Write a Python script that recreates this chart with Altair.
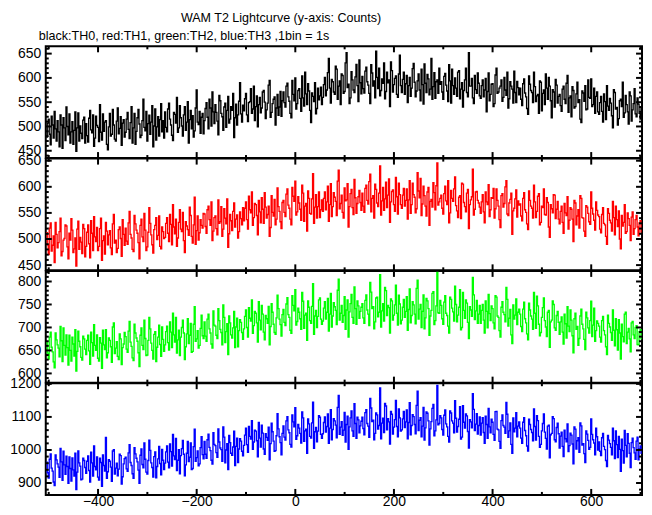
import altair as alt
import pandas as pd

# time bins (seconds); each listed value is one bin
T_START = -505
BIN = 2

th0 = [
    478, 507, 515, 484, 462, 521, 503, 476, 531, 495, 470, 512, 489, 458, 524, 503, 455, 518, 497, 471,
    540, 500, 483, 526, 466, 489, 510, 463, 492, 530, 449, 497, 528, 470, 501, 486, 475, 513, 519, 466,
    506, 481, 468, 517, 533, 493, 487, 524, 459, 476, 521, 502, 498, 469, 545, 488, 472, 526, 490, 509,
    512, 463, 452, 499, 527, 480, 484, 535, 503, 474, 470, 511, 538, 485, 496, 520, 461, 507, 514, 478,
    488, 515, 529, 494, 475, 508, 541, 466, 497, 527, 463, 490, 518, 535, 505, 477, 482, 512, 556, 498,
    491, 531, 470, 506, 523, 484, 509, 543, 458, 501, 536, 472, 499, 520, 480, 514, 547, 489, 512, 476,
    530, 498, 489, 536, 548, 515, 503, 482, 471, 529, 525, 507, 560, 488, 497, 543, 518, 501, 480, 524,
    541, 492, 509, 551, 466, 514, 533, 495, 522, 478, 491, 538, 575, 509, 504, 531, 486, 519, 527, 485,
    512, 537, 549, 519, 495, 556, 538, 501, 571, 530, 506, 545, 529, 511, 483, 564, 553, 527, 520, 492,
    540, 548, 498, 533, 562, 507, 515, 541, 533, 568, 477, 518, 546, 503, 524, 552, 590, 526, 509, 544,
    532, 557, 568, 524, 510, 549, 551, 578, 527, 536, 583, 512, 541, 563, 499, 545, 560, 528, 538, 571,
    574, 550, 516, 534, 548, 585, 595, 519, 529, 547, 556, 561, 503, 538, 566, 523, 540, 572, 521, 553,
    571, 549, 540, 583, 589, 561, 552, 527, 518, 595, 566, 553, 600, 536, 547, 574, 578, 558, 531, 604,
    559, 542, 612, 567, 545, 588, 573, 533, 508, 569, 562, 551, 590, 526, 537, 579, 555, 563, 581, 545,
    560, 586, 601, 563, 575, 611, 640, 579, 548, 597, 592, 571, 566, 624, 618, 556, 583, 594, 545, 608,
    605, 568, 572, 631, 652, 580, 587, 547, 559, 613, 596, 575, 570, 602, 628, 584, 551, 637, 590, 567,
    603, 578, 569, 614, 622, 592, 585, 568, 547, 627, 610, 583, 594, 559, 655, 601, 578, 620, 563, 574,
    598, 589, 631, 557, 572, 612, 590, 596, 541, 633, 615, 571, 586, 599, 604, 566, 560, 608, 647, 584,
    570, 597, 612, 566, 588, 605, 549, 584, 601, 562, 579, 619, 630, 591, 561, 573, 594, 608, 575, 553,
    618, 586, 546, 629, 589, 570, 607, 598, 565, 577, 640, 556, 582, 611, 558, 592, 596, 568, 620, 587,
    592, 571, 556, 603, 609, 585, 573, 551, 627, 594, 548, 618, 584, 566, 600, 579, 562, 612, 615, 557,
    577, 590, 540, 574, 596, 620, 570, 561, 652, 583, 583, 599, 559, 547, 605, 576, 568, 610, 589, 563,
    558, 584, 596, 561, 575, 599, 530, 572, 610, 553, 566, 587, 588, 541, 547, 606, 620, 568, 571, 579,
    583, 596, 552, 560, 601, 575, 564, 612, 538, 557, 592, 583, 577, 548, 614, 570, 549, 593, 580, 565,
    579, 556, 543, 588, 598, 569, 561, 537, 525, 604, 587, 574, 570, 549, 612, 582, 551, 563, 566, 527,
    594, 591, 532, 568, 575, 545, 608, 579, 556, 601, 583, 553, 518, 576, 571, 540, 597, 585, 548, 562,
    566, 543, 531, 577, 583, 556, 547, 589, 605, 529, 559, 563, 520, 582, 574, 538, 541, 567, 591, 549,
    555, 515, 508, 573, 569, 552, 584, 534, 536, 596, 560, 558, 598, 541, 545, 579, 527, 562, 571, 530,
    525, 549, 562, 531, 509, 567, 551, 514, 584, 542, 533, 558, 548, 522, 497, 576, 570, 536, 539, 503,
    516, 553, 556, 541, 591, 519, 528, 564, 545, 530, 505, 571, 563, 511, 534, 547, 578, 526, 520, 559,
    546, 527, 515, 541,
]

th1 = [
    512, 489, 470, 521, 531, 477, 488, 506, 455, 532, 509, 483, 493, 514, 540, 468, 476, 498, 501, 527,
    525, 485, 462, 511, 498, 539, 517, 474, 481, 502, 448, 519, 534, 480, 503, 494, 472, 528, 520, 466,
    486, 513, 527, 491, 464, 535, 511, 478, 543, 504, 495, 522, 478, 486, 520, 540, 459, 497, 506, 471,
    532, 515, 489, 508, 516, 483, 470, 529, 547, 492, 498, 474, 482, 518, 523, 501, 467, 537, 509, 488,
    521, 496, 490, 531, 553, 509, 502, 480, 476, 545, 529, 517, 511, 493, 462, 526, 538, 504, 495, 549,
    517, 478, 485, 513, 560, 530, 508, 489, 473, 518, 526, 541, 499, 507, 544, 486, 481, 523, 514, 501,
    503, 530, 541, 511, 495, 547, 528, 489, 566, 523, 510, 538, 486, 502, 532, 556, 519, 514, 551, 497,
    474, 533, 525, 518, 507, 561, 545, 505, 492, 527, 580, 490, 516, 544, 498, 512, 537, 526, 521, 549,
    548, 524, 511, 556, 563, 537, 526, 571, 497, 515, 541, 544, 520, 508, 575, 530, 533, 562, 505, 519,
    558, 540, 529, 577, 484, 510, 547, 535, 516, 553, 569, 523, 538, 546, 502, 514, 552, 539, 527, 560,
    535, 559, 571, 537, 519, 582, 556, 550, 590, 526, 541, 568, 566, 545, 508, 574, 552, 531, 579, 557,
    530, 589, 561, 540, 547, 563, 505, 522, 583, 551, 544, 576, 527, 538, 598, 562, 553, 533, 520, 570,
    574, 551, 543, 586, 596, 565, 559, 538, 527, 599, 582, 572, 611, 546, 552, 581, 569, 557, 536, 603,
    588, 534, 563, 568, 515, 592, 578, 549, 548, 577, 625, 530, 561, 585, 540, 562, 590, 541, 556, 575,
    553, 578, 590, 556, 571, 601, 534, 566, 606, 543, 562, 589, 580, 572, 545, 611, 632, 558, 568, 584,
    551, 540, 598, 573, 575, 606, 523, 562, 587, 595, 560, 547, 614, 579, 549, 568, 581, 593, 570, 555,
    588, 563, 551, 597, 603, 574, 567, 610, 624, 552, 578, 583, 540, 605, 595, 569, 562, 588, 640, 546,
    573, 599, 555, 577, 609, 560, 584, 615, 532, 571, 591, 594, 566, 553, 618, 581, 548, 607, 585, 566,
    559, 584, 597, 563, 574, 596, 538, 575, 612, 549, 566, 607, 585, 580, 550, 558, 627, 592, 579, 616,
    545, 567, 601, 583, 563, 544, 590, 599, 526, 572, 576, 561, 608, 589, 556, 602, 646, 565, 571, 578,
    584, 559, 548, 587, 601, 573, 566, 612, 531, 550, 593, 578, 572, 596, 619, 564, 554, 541, 580, 583,
    539, 607, 605, 570, 562, 552, 588, 595, 520, 566, 575, 581, 634, 546, 557, 590, 591, 574, 569, 561,
    549, 571, 585, 552, 531, 590, 571, 566, 604, 543, 556, 579, 578, 597, 540, 558, 596, 574, 563, 537,
    522, 583, 587, 561, 568, 600, 612, 548, 545, 569, 576, 588, 509, 554, 559, 577, 594, 542, 573, 565,
    567, 544, 535, 578, 589, 556, 551, 529, 518, 592, 574, 563, 559, 540, 603, 571, 541, 553, 582, 587,
    527, 532, 563, 560, 596, 547, 546, 579, 570, 523, 503, 566, 558, 550, 585, 584, 539, 557, 572, 538,
    529, 553, 563, 532, 511, 568, 550, 545, 581, 519, 536, 560, 557, 538, 495, 574, 569, 527, 544, 556,
    521, 583, 578, 541, 540, 515, 505, 564, 561, 549, 533, 528, 590, 559, 548, 536, 517, 571, 555, 546,
    543, 519, 512, 547, 560, 530, 527, 505, 490, 558, 549, 536, 531, 515, 572, 541, 508, 563, 537, 524,
    554, 500, 481, 545, 525, 532, 566, 511, 514, 550, 539, 526, 497, 542, 552, 509, 520, 537, 545, 523,
    506, 531, 535, 512,
]

th2 = [
    668, 644, 631, 679, 690, 657, 647, 625, 612, 688, 673, 662, 655, 636, 702, 671, 626, 699, 661, 640,
    684, 656, 618, 683, 650, 627, 679, 664, 638, 695, 605, 648, 692, 670, 658, 635, 629, 681, 675, 653,
    641, 672, 683, 649, 620, 690, 667, 638, 706, 661, 650, 684, 633, 627, 678, 666, 611, 694, 662, 652,
    695, 634, 645, 677, 672, 658, 624, 701, 710, 643, 655, 669, 637, 630, 686, 675, 619, 656, 664, 689,
    680, 653, 646, 692, 713, 668, 659, 634, 628, 707, 688, 677, 670, 645, 615, 683, 699, 661, 652, 716,
    676, 639, 640, 672, 722, 697, 666, 650, 631, 685, 691, 626, 657, 679, 705, 663, 637, 701, 674, 648,
    662, 691, 703, 667, 651, 712, 690, 656, 731, 684, 668, 722, 644, 673, 694, 639, 679, 700, 716, 688,
    630, 658, 686, 719, 665, 683, 709, 646, 648, 707, 745, 670, 675, 693, 655, 661, 698, 727, 682, 676,
    712, 681, 670, 718, 729, 697, 688, 664, 655, 736, 705, 703, 683, 676, 741, 715, 696, 689, 662, 749,
    722, 667, 691, 708, 641, 725, 710, 684, 677, 699, 735, 656, 701, 720, 658, 693, 717, 711, 689, 674,
    697, 724, 738, 700, 679, 743, 720, 714, 760, 687, 704, 735, 731, 710, 668, 756, 716, 695, 748, 729,
    690, 673, 726, 719, 709, 746, 662, 702, 752, 733, 707, 689, 685, 721, 770, 741, 718, 706, 681, 728,
    739, 711, 704, 751, 765, 728, 722, 694, 687, 769, 748, 736, 782, 705, 713, 742, 733, 719, 696, 776,
    757, 698, 727, 731, 672, 758, 744, 715, 709, 746, 795, 685, 725, 737, 700, 724, 760, 764, 718, 707,
    714, 742, 756, 718, 733, 763, 692, 729, 774, 701, 725, 754, 745, 737, 706, 781, 805, 716, 731, 748,
    711, 726, 767, 696, 738, 760, 679, 734, 752, 772, 722, 709, 788, 741, 707, 758, 747, 720, 735, 744,
    752, 721, 709, 759, 771, 738, 729, 704, 798, 777, 741, 745, 697, 712, 764, 766, 723, 733, 815, 701,
    736, 752, 714, 787, 780, 726, 748, 743, 688, 762, 758, 716, 727, 749, 792, 731, 705, 770, 751, 708,
    716, 744, 761, 722, 735, 767, 694, 739, 784, 710, 726, 756, 749, 729, 708, 785, 803, 718, 740, 750,
    700, 735, 771, 697, 721, 763, 758, 741, 683, 725, 737, 774, 778, 706, 715, 747, 820, 732, 731, 759,
    748, 719, 707, 755, 769, 731, 726, 703, 688, 766, 761, 742, 734, 714, 790, 750, 712, 727, 744, 782,
    695, 700, 776, 737, 720, 760, 753, 711, 676, 745, 738, 724, 809, 771, 717, 736, 759, 709, 729, 748,
    709, 737, 750, 716, 688, 758, 735, 699, 772, 730, 715, 747, 741, 710, 697, 769, 766, 725, 722, 693,
    679, 744, 756, 733, 728, 712, 787, 761, 703, 720, 739, 684, 665, 749, 718, 727, 762, 706, 733, 740,
    729, 702, 691, 740, 755, 719, 710, 686, 673, 753, 738, 725, 718, 696, 776, 731, 698, 768, 747, 707,
    682, 689, 722, 743, 764, 715, 701, 680, 733, 737, 657, 712, 716, 758, 750, 699, 694, 726, 735, 711,
    685, 712, 723, 690, 664, 729, 708, 677, 745, 703, 691, 738, 716, 682, 645, 719, 731, 696, 702, 661,
    676, 725, 740, 707, 697, 674, 652, 733, 721, 699, 688, 715, 757, 680, 705, 742, 670, 693, 714, 709,
    703, 679, 668, 715, 724, 693, 684, 658, 641, 727, 709, 701, 689, 672, 738, 694, 660, 719, 695, 651,
    717, 688, 631, 707, 680, 669, 729, 733, 665, 690, 698, 675, 647, 710, 713, 684, 676, 700, 704, 663,
    662, 691, 696, 674,
]

th3 = [
    963, 931, 915, 972, 988, 945, 936, 903, 892, 985, 970, 958, 948, 917, 1005, 964, 908, 996, 955, 926,
    981, 950, 899, 979, 944, 906, 976, 940, 921, 990, 880, 933, 997, 961, 951, 910, 912, 975, 968, 947,
    929, 966, 982, 938, 903, 993, 961, 921, 1012, 950, 940, 979, 918, 909, 975, 962, 890, 985, 953, 936,
    1038, 914, 934, 971, 966, 948, 905, 997, 1001, 927, 945, 960, 922, 942, 987, 983, 897, 919, 958, 974,
    978, 943, 935, 991, 1016, 962, 953, 928, 914, 1007, 988, 975, 964, 939, 899, 984, 1003, 956, 946, 1021,
    972, 933, 927, 968, 1030, 999, 961, 947, 918, 980, 994, 916, 950, 973, 1011, 959, 925, 1002, 969, 941,
    960, 994, 1012, 963, 946, 1018, 995, 951, 1047, 982, 971, 1035, 938, 969, 1001, 928, 983, 1004, 1029, 987,
    922, 955, 990, 1026, 965, 978, 1021, 941, 944, 1010, 1063, 966, 977, 997, 952, 958, 1007, 1040, 986, 973,
    1026, 987, 975, 1031, 1048, 1008, 998, 969, 957, 1052, 1017, 1013, 992, 978, 1064, 1024, 1006, 1001, 966, 1070,
    1039, 961, 1000, 1019, 941, 1044, 1022, 990, 984, 1009, 1057, 953, 1011, 1036, 962, 1003, 1034, 1027, 996, 982,
    1014, 1045, 1066, 1016, 993, 1071, 1041, 1033, 1089, 1002, 1024, 1060, 1057, 1028, 979, 1083, 1036, 1009, 1075, 1051,
    1003, 987, 1049, 1038, 1029, 1069, 970, 1019, 1081, 1055, 1027, 996, 998, 1043, 1110, 1064, 1040, 1022, 985, 1050,
    1073, 1039, 1030, 1088, 1101, 1061, 1052, 1017, 1009, 1106, 1085, 1070, 1128, 1032, 1043, 1077, 1066, 1050, 1021, 1115,
    1097, 1026, 1058, 1063, 990, 1094, 1079, 1041, 1036, 1082, 1145, 1005, 1055, 1068, 1025, 1057, 1104, 1099, 1047, 1035,
    1049, 1083, 1100, 1054, 1071, 1109, 1020, 1066, 1122, 1031, 1062, 1095, 1088, 1075, 1037, 1129, 1165, 1047, 1069, 1086,
    1044, 1060, 1114, 1024, 1077, 1102, 1002, 1070, 1097, 1118, 1058, 1041, 1140, 1080, 1035, 1099, 1091, 1052, 1073, 1087,
    1099, 1065, 1046, 1113, 1122, 1080, 1072, 1038, 1156, 1127, 1086, 1090, 1031, 1050, 1112, 1106, 1063, 1074, 1188, 1034,
    1081, 1096, 1053, 1141, 1133, 1061, 1095, 1085, 1018, 1117, 1108, 1048, 1069, 1092, 1150, 1071, 1040, 1124, 1097, 1057,
    1061, 1094, 1117, 1068, 1085, 1121, 1034, 1083, 1143, 1046, 1074, 1107, 1101, 1077, 1049, 1135, 1178, 1059, 1090, 1098,
    1040, 1072, 1129, 1030, 1067, 1115, 1111, 1088, 1015, 1064, 1086, 1126, 1138, 1043, 1058, 1091, 1195, 1076, 1080, 1104,
    1097, 1062, 1045, 1105, 1121, 1079, 1070, 1041, 1024, 1118, 1112, 1088, 1081, 1052, 1149, 1096, 1054, 1071, 1093, 1131,
    1033, 1039, 1134, 1084, 1066, 1109, 1103, 1056, 1006, 1092, 1085, 1067, 1170, 1123, 1059, 1078, 1110, 1048, 1074, 1100,
    1045, 1081, 1098, 1053, 1020, 1102, 1077, 1035, 1126, 1070, 1052, 1093, 1084, 1047, 1029, 1116, 1117, 1063, 1061, 1026,
    1005, 1089, 1106, 1074, 1069, 1050, 1144, 1108, 1038, 1058, 1082, 1017, 990, 1097, 1055, 1066, 1113, 1040, 1072, 1085,
    1066, 1036, 1020, 1084, 1098, 1059, 1043, 1012, 997, 1093, 1077, 1062, 1053, 1028, 1124, 1071, 1030, 1104, 1089, 1041,
    1008, 1017, 1058, 1080, 1109, 1054, 1035, 1003, 1072, 1075, 976, 1046, 1050, 1101, 1095, 1031, 1025, 1068, 1081, 1049,
    1006, 1042, 1054, 1011, 980, 1060, 1034, 1025, 1079, 995, 1013, 1051, 1045, 1018, 958, 1070, 1063, 1003, 1028, 1037,
    993, 1082, 1073, 1015, 1019, 989, 962, 1058, 1048, 1029, 1002, 1008, 1094, 1047, 1031, 1021, 985, 1066, 1040, 1000,
    1024, 996, 983, 1037, 1050, 1011, 1001, 968, 950, 1044, 1030, 1019, 1008, 985, 1066, 1028, 974, 1058, 1016, 977,
    1041, 1002, 935, 1033, 998, 960, 1059, 1014, 979, 1049, 1020, 990, 947, 1022, 1036, 1007, 991, 972, 1027, 1039,
    970, 1003, 1012, 988,
]

x_domain = [-506, 703]
x_major = [-400, -200, 0, 200, 400, 600]
x_minor = [-500, -300, -100, 100, 300, 500, 700]

panels = [
    {"values": th0, "color": "#000000", "domain": [435, 665],
     "major": [450, 500, 550, 600, 650], "minor": [v for v in range(440, 661, 10) if v % 50]},
    {"values": th1, "color": "#ff0000", "domain": [440, 654],
     "major": [450, 500, 550, 600, 650], "minor": [v for v in range(440, 651, 10) if v % 50]},
    {"values": th2, "color": "#00ff00", "domain": [580, 823],
     "major": [600, 650, 700, 750, 800], "minor": [v for v in range(580, 821, 10) if v % 50]},
    {"values": th3, "color": "#0000ff", "domain": [864, 1202],
     "major": [900, 1000, 1100, 1200], "minor": [v for v in range(880, 1201, 20) if v % 100]},
]

W = 600
H = 112.4
MAJ = 6
MIN = 3
FONT = "Liberation Sans"


def make_panel(i, p):
    df = pd.DataFrame({"t": [T_START + BIN * k for k in range(len(p["values"]))],
                       "v": p["values"]})
    xs = alt.Scale(domain=x_domain, nice=False, zero=False)
    ys = alt.Scale(domain=p["domain"], nice=False, zero=False)
    last = i == len(panels) - 1
    if last:
        xaxis = alt.Axis(values=x_major, ticks=False, domain=False, grid=False, title=None,
                         labelFontSize=14, labelPadding=0, labelFont=FONT,
                         labelColor="black", labelOverlap=False, format="d")
    else:
        xaxis = None
    yaxis = alt.Axis(values=p["major"], ticks=False, domain=False, grid=False, title=None,
                     labelFontSize=14, labelPadding=5, labelFont=FONT, labelColor="black",
                     labelOverlap=False, format="d")
    X = lambda f: alt.X(f"{f}:Q", scale=xs, axis=xaxis, title=None)
    Y = lambda f: alt.Y(f"{f}:Q", scale=ys, axis=yaxis, title=None)

    line = alt.Chart(df).mark_line(
        interpolate="step-after", strokeWidth=1.35, color=p["color"], clip=True
    ).encode(x=X("t"), y=Y("v"))

    layers = [line]

    def yt(vals, length):
        d = pd.DataFrame({"v": vals})
        left = alt.Chart(d).mark_rule(color="black", strokeWidth=2).encode(
            y=Y("v"), x=alt.value(0), x2=alt.value(length))
        right = alt.Chart(d).mark_rule(color="black", strokeWidth=2).encode(
            y=Y("v"), x=alt.value(W - length), x2=alt.value(W))
        return [left, right]

    def xt(vals, length):
        d = pd.DataFrame({"t": vals})
        top = alt.Chart(d).mark_rule(color="black", strokeWidth=2).encode(
            x=X("t"), y=alt.value(0), y2=alt.value(length))
        bottom = alt.Chart(d).mark_rule(color="black", strokeWidth=2).encode(
            x=X("t"), y=alt.value(H - length), y2=alt.value(H))
        return [top, bottom]

    layers += yt(p["major"], MAJ) + yt(p["minor"], MIN) + xt(x_major, MAJ) + xt(x_minor, MIN)
    ch = alt.layer(*layers).properties(width=W, height=H)
    if i == 0:
        ch = ch.properties(title=alt.TitleParams(
            "black:TH0, red:TH1, green:TH2, blue:TH3 ,1bin = 1s",
            anchor="start", dx=-7, fontSize=12.6, fontWeight="normal", font=FONT,
            color="black", offset=3, frame="group"))
    return ch


chart = alt.vconcat(*[make_panel(i, p) for i, p in enumerate(panels)],
                    spacing=0, bounds="flush").properties(
    title=alt.TitleParams("WAM T2 Lightcurve (y-axis: Counts)", anchor="start", dx=136,
                          fontSize=12.6, fontWeight="normal", font=FONT, color="black",
                          offset=4, frame="group"),
    padding={"left": 0, "top": 2, "right": 0, "bottom": -3},
).configure_view(stroke="black", strokeWidth=2)

chart.save("out.html", embed_options={"renderer": "svg", "actions": False})
